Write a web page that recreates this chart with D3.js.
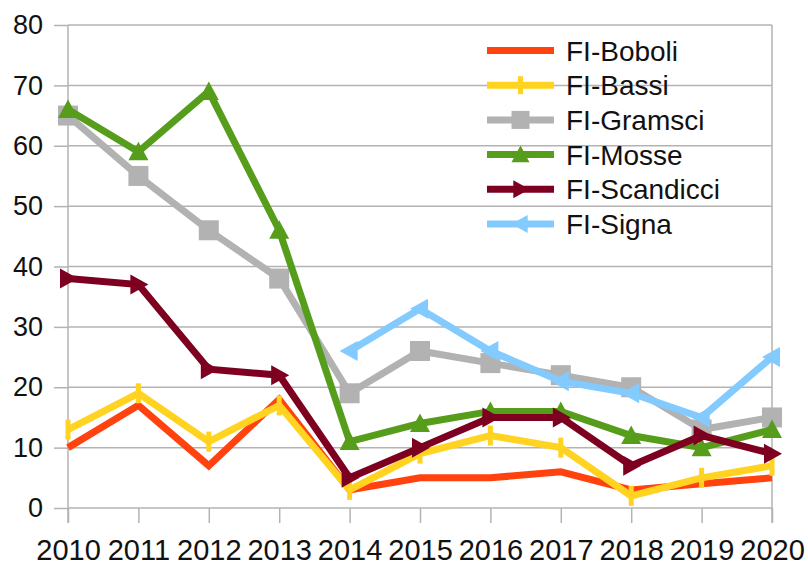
<!DOCTYPE html>
<meta charset="utf-8">
<style>
body { margin: 0; background: #fff; }
svg { display: block; font-family: "Liberation Sans", Arial, sans-serif; }
.axis text { fill: #111; font-size: 27px; }
.xaxis text { font-size: 29px; }
.axis path.domain { display: none; }
.axis line { stroke: #b3b3b3; stroke-width: 1.5px; }
.grid line { stroke: #b3b3b3; stroke-width: 1.5px; }
.legend text { fill: #111; font-size: 28px; }
</style>
<svg width="808" height="564"></svg>
<script src="https://d3js.org/d3.v7.min.js"></script>
<script>
var years = ["2010","2011","2012","2013","2014","2015","2016","2017","2018","2019","2020"];
var names = ["FI-Boboli","FI-Bassi","FI-Gramsci","FI-Mosse","FI-Scandicci","FI-Signa"];
var colors = ["#ff420e","#ffd320","#b2b2b2","#579d1c","#7e0021","#83caff"];
var markers = ["none","bar","square","up","right","left"];

var boboli    = [10, 17, 7, 18, 3, 5, 5, 6, 3, 4, 5];
var bassi     = [13, 19, 11, 17, 3, 9, 12, 10, 2, 5, 7];
var gramsci   = [65, 55, 46, 38, 19, 26, 24, 22, 20, 13, 15];
var mosse     = [66, 59, 69, 46, 11, 14, 16, 16, 12, 10, 13];
var scandicci = [38, 37, 23, 22, 5, 10, 15, 15, 7, 12, 9];
var signa     = [null, null, null, null, 26, 33, 26, 21, 19, 15, 25];

var yTicks = [0, 10, 20, 30, 40, 50, 60, 70, 80];

var series = [boboli, bassi, gramsci, mosse, scandicci, signa];

var svg = d3.select("svg");
var plotLeft = 68, plotRight = 772, plotTop = 25, plotBottom = 508;

var x = d3.scalePoint().domain(years).range([plotLeft, plotRight]);
var y = d3.scaleLinear().domain([0, 80]).range([plotBottom, plotTop]);

// gridlines
svg.append("g").attr("class", "grid")
  .selectAll("line").data(yTicks).enter().append("line")
    .attr("x1", plotLeft).attr("x2", plotRight)
    .attr("y1", function(d) { return y(d); })
    .attr("y2", function(d) { return y(d); });

// vertical frame lines
svg.append("g").attr("class", "grid")
  .selectAll("line").data([plotLeft, plotRight]).enter().append("line")
    .attr("x1", function(d) { return d; }).attr("x2", function(d) { return d; })
    .attr("y1", plotTop).attr("y2", plotBottom + 15);

svg.append("g").attr("class", "axis")
  .attr("transform", "translate(" + plotLeft + ",0)")
  .call(d3.axisLeft(y).tickValues(yTicks).tickSize(14).tickPadding(11));

svg.append("g").attr("class", "axis xaxis")
  .attr("transform", "translate(0," + plotBottom + ")")
  .call(d3.axisBottom(x).tickSize(15).tickPadding(16));

function markerPath(type, s) {
  var h = s / 2;
  if (type == "square") return "M" + -h + "," + -h + "H" + h + "V" + h + "H" + -h + "Z";
  if (type == "up") return "M0," + -h + "L" + h + "," + h * 0.85 + "L" + -h + "," + h * 0.85 + "Z";
  if (type == "right") return "M" + h + ",0L" + -h * 0.8 + "," + -h + "L" + -h * 0.8 + "," + h + "Z";
  if (type == "left") return "M" + -h + ",0L" + h * 0.8 + "," + -h + "L" + h * 0.8 + "," + h + "Z";
  if (type == "bar") return "M-2.5," + -h + "H2.5V" + h + "H-2.5Z";
  return "";
}

var line = d3.line()
  .defined(function(d) { return d != null; })
  .x(function(d, i) { return x(years[i]); })
  .y(function(d) { return y(d); });

series.forEach(function(vals, k) {
  var g = svg.append("g");
  g.append("path")
    .attr("d", line(vals))
    .attr("fill", "none")
    .attr("stroke", colors[k])
    .attr("stroke-width", 7);
  if (markers[k] != "none") {
    g.selectAll("path.m")
      .data(vals.map(function(v, i) { return {v: v, yr: years[i]}; }).filter(function(d) { return d.v != null; }))
      .enter().append("path").attr("class", "m")
        .attr("transform", function(d) { return "translate(" + x(d.yr) + "," + y(d.v) + ")"; })
        .attr("d", markerPath(markers[k], 20))
        .attr("fill", colors[k]);
  }
});

// legend
var leg = svg.append("g").attr("class", "legend");
names.forEach(function(n, k) {
  var ly = 50.5 + k * 34.7;
  leg.append("line")
    .attr("x1", 487).attr("x2", 554).attr("y1", ly).attr("y2", ly)
    .attr("stroke", colors[k]).attr("stroke-width", 7);
  if (markers[k] != "none") {
    leg.append("path")
      .attr("transform", "translate(520.5," + ly + ")")
      .attr("d", markerPath(markers[k], 18))
      .attr("fill", colors[k]);
  }
  leg.append("text")
    .attr("x", 566).attr("y", ly).attr("dy", "0.36em")
    .text(n);
});
</script>
